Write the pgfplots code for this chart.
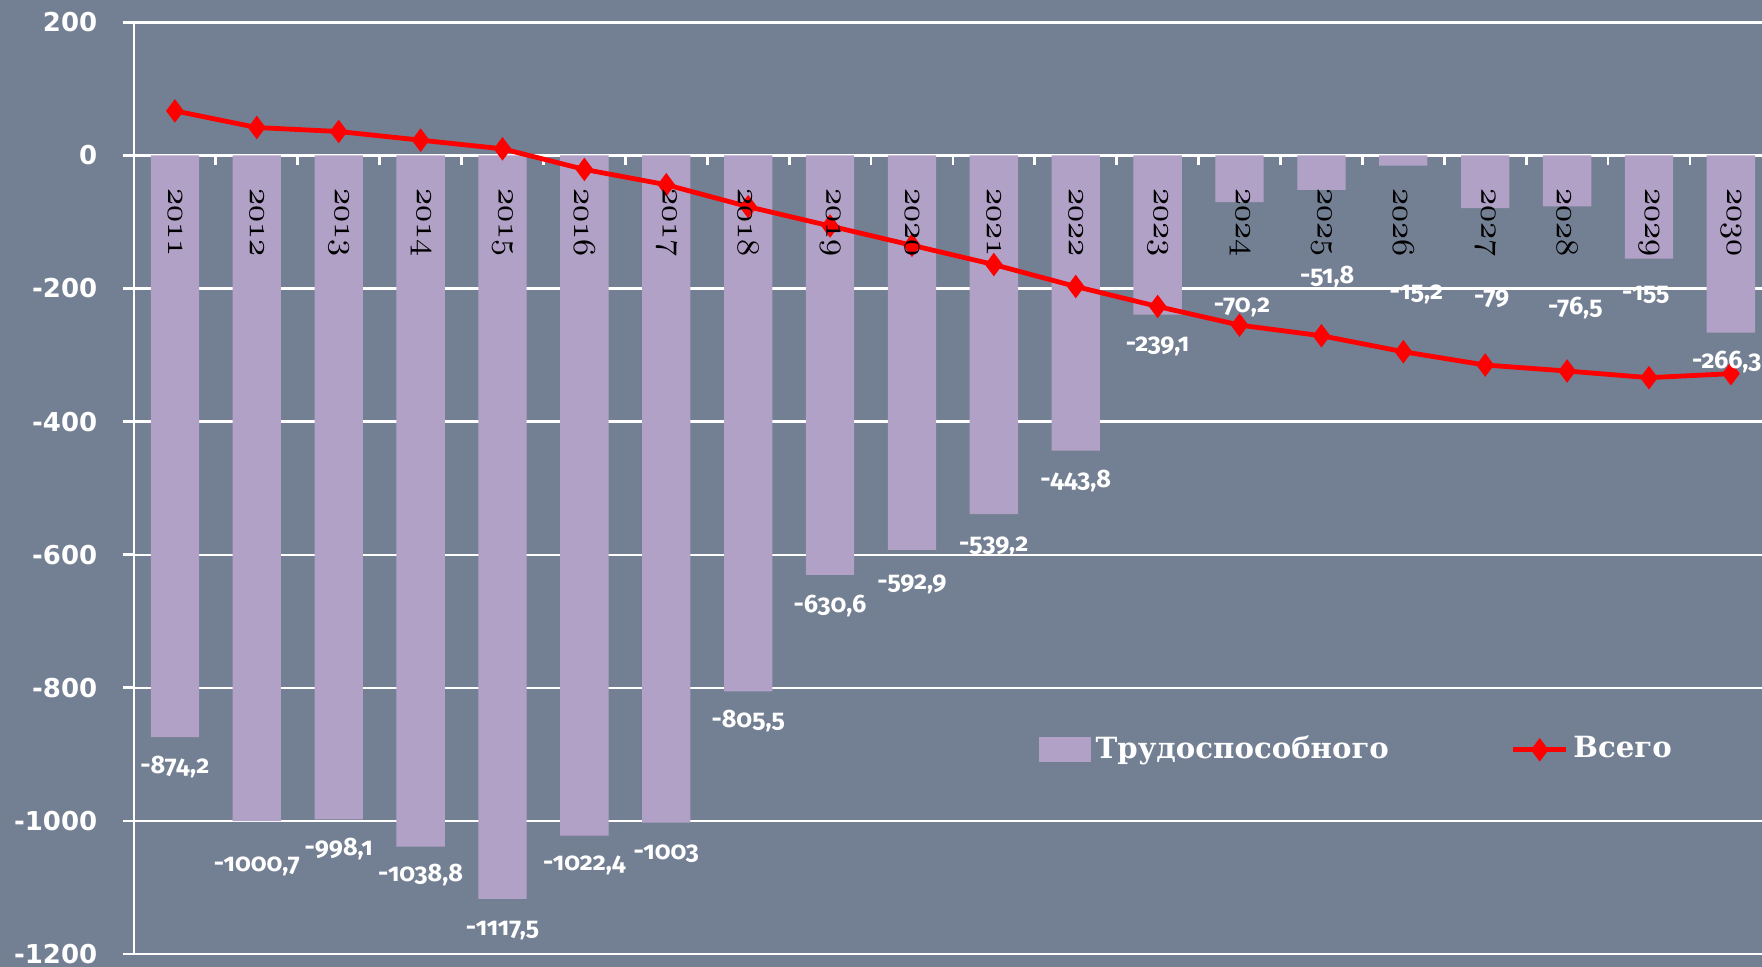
\documentclass[border=0pt]{standalone}
\usepackage{pgfplots}
\pgfplotsset{compat=1.18}
\usepackage{fontspec}
\setmainfont{DejaVu Serif}
\newfontfamily\tickfont{DejaVu Sans}
\newfontfamily\valfont{Fira Sans}[Numbers={OldStyle,Proportional}]
\definecolor{bg}{RGB}{115,127,146}
\definecolor{barc}{RGB}{178,161,199}
\definecolor{linec}{RGB}{255,0,0}

\pgfplotsset{
  barleg/.style={legend image code/.code={\fill[barc] (0pt,-3.1pt) rectangle (13pt,3.1pt);}},
  lineleg/.style={legend image code/.code={\draw[mark repeat=2,mark phase=2,##1] plot coordinates {(0pt,0pt) (6.6pt,0pt) (13.25pt,0pt)};}},
}

\pgfplotstableread{
x y
0 -874.2
1 -1000.7
2 -998.1
3 -1038.8
4 -1117.5
5 -1022.4
6 -1003
7 -805.5
8 -630.6
9 -592.9
10 -539.2
11 -443.8
12 -239.1
13 -70.2
14 -51.8
15 -15.2
16 -79
17 -76.5
18 -155
19 -266.3
}\bars

\pgfplotstableread{
x y
0 67
1 42
2 36
3 23
4 10
5 -21
6 -44
7 -77
8 -106
9 -135
10 -164
11 -197
12 -227
13 -255
14 -271
15 -295
16 -315
17 -324
18 -334
19 -328
}\total

\pgfplotstableread{
x y lab
0 -919 -874,2
1 -1068 -1000,7
2 -1043 -998,1
3 -1081 -1038,8
4 -1165 -1117,5
5 -1067 -1022,4
6 -1049 -1003
7 -850 -805,5
8 -678 -630,6
9 -644 -592,9
10 -588 -539,2
11 -490 -443,8
12 -287 -239,1
13.03 -229 -70,2
14.07 -182 -51,8
15.16 -209 -15,2
16.08 -216 -79
17.1 -230 -76,5
17.96 -209 -155
18.95 -311 -266,3
}\vallabs

\pgfplotstableread{
x y lab
0 -48 2011
1 -48 2012
2 -48 2013
3 -48 2014
4 -48 2015
5 -48 2016
6 -48 2017
7 -48 2018
8 -48 2019
9 -48 2020
10 -48 2021
11 -48 2022
12 -48 2023
13 -48 2024
14 -48 2025
15 -48 2026
16 -48 2027
17 -48 2028
18 -48 2029
19 -48 2030
}\years

\pgfplotstableread{
x y
0.5 0
0.5 -15
0.5 nan
1.5 0
1.5 -15
1.5 nan
2.5 0
2.5 -15
2.5 nan
3.5 0
3.5 -15
3.5 nan
4.5 0
4.5 -15
4.5 nan
5.5 0
5.5 -15
5.5 nan
6.5 0
6.5 -15
6.5 nan
7.5 0
7.5 -15
7.5 nan
8.5 0
8.5 -15
8.5 nan
9.5 0
9.5 -15
9.5 nan
10.5 0
10.5 -15
10.5 nan
11.5 0
11.5 -15
11.5 nan
12.5 0
12.5 -15
12.5 nan
13.5 0
13.5 -15
13.5 nan
14.5 0
14.5 -15
14.5 nan
15.5 0
15.5 -15
15.5 nan
16.5 0
16.5 -15
16.5 nan
17.5 0
17.5 -15
17.5 nan
18.5 0
18.5 -15
}\xticks

\begin{document}
\begin{tikzpicture}
\fill[bg] (-33.5pt,-3.25pt) rectangle (407.1pt,238.5pt);
\begin{axis}[
  at={(0,0)}, anchor=south west,
  scale only axis, width=407.1pt, height=232.9pt,
  xmin=-0.5, xmax=19.38, ymin=-1200, ymax=200,
  axis y line=left, axis x line=none,
  y axis line style={-, white, line width=0.7pt},
  ytick={-1200,-1000,-800,-600,-400,-200,0,200},
  yticklabels={-1200,-1000,-800,-600,-400,-200,0,200},
  yticklabel style={anchor=east, inner sep=0pt, xshift=-6.25pt, text=white,
    font=\tickfont\bfseries\fontsize{6.5}{7}\selectfont},
  tick align=outside, major tick length=2.75pt,
  ytick style={white, line width=0.6pt},
  ymajorgrids, major grid style={white, line width=0.55pt},
  unbounded coords=jump,
  legend columns=2,
  legend cell align=left,
  legend style={at={(0.5558,0.219)}, anchor=west, draw=none, fill=none,
    inner sep=0pt, outer sep=0pt, column sep=1.2pt,
    /tikz/every even column/.append style={column sep=30.5pt},
    nodes={inner sep=0pt, text=white},
    font=\bfseries\fontsize{7.3}{8}\selectfont},
]
\addplot[white, line width=0.7pt, mark=none, forget plot] table {\xticks};

\addplot[ybar, bar width=0.59, fill=barc, draw=none, barleg]
  table {\bars};
\addlegendentry{Трудоспособного}

\addplot[linec, line width=1.2pt, mark=diamond*, mark size=2.7pt,
  mark options={fill=linec, draw=linec, line width=0.3pt}, lineleg]
  table {\total};
\addlegendentry{Всего}

\addplot[draw=none, mark=none, forget plot, point meta=explicit symbolic,
  nodes near coords={\usefont{OML}{cmm}{m}{it}\pgfplotspointmeta},
  nodes near coords style={rotate=-90, anchor=west, inner sep=0pt, text=black,
    font=\fontsize{8.2}{9}\selectfont}]
  table[meta=lab] {\years};

\addplot[draw=none, mark=none, forget plot, point meta=explicit symbolic,
  nodes near coords={\pgfplotspointmeta},
  nodes near coords style={anchor=center, inner sep=0pt, text=white,
    font=\valfont\bfseries\fontsize{6.3}{7}\selectfont}]
  table[meta=lab] {\vallabs};
\end{axis}
\pgfresetboundingbox
\useasboundingbox (-33.5pt,-3.25pt) rectangle (407.1pt,238.5pt);
\end{tikzpicture}
\end{document}
